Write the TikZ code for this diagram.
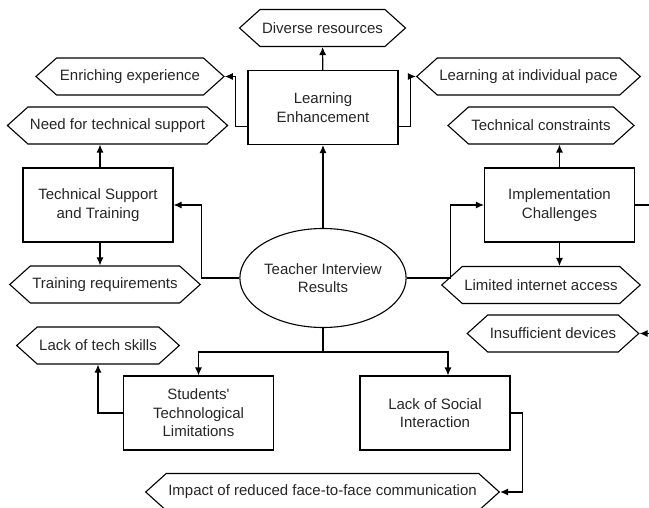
\documentclass[tikz,border=0pt]{standalone}
\usepackage{fontspec}
\setmainfont{Liberation Sans}
\usetikzlibrary{arrows.meta,positioning,shapes.symbols,shapes.geometric}

\begin{document}
\begin{tikzpicture}[
    x=1pt, y=-1pt,
    every node/.style={font=\fontsize{15}{18.5}\selectfont, text=black!85},
    theme/.style={draw, align=center, minimum width=150, minimum height=74, inner sep=2pt, line width=1.1pt},
    finding/.style={draw, signal, signal to=east and west, signal pointer angle=84, minimum height=37, inner sep=2pt, line width=1.1pt},
    hub/.style={draw, ellipse, align=center, minimum width=151, minimum height=99, inner sep=0pt, line width=1.1pt},
    flow/.style={-{Latex[length=8pt,width=7pt]}, line width=1.1pt}
]
\clip (0,0) rectangle (649,508);
% centre and themes
\node[hub] (results) at (323,278) {Teacher Interview\\Results};
\node[theme] (enhance) at (323,107.5) {Learning\\Enhancement};
\node[theme] (support) at (98,205) {Technical Support\\and Training};
\node[theme] (challenge) at (559.5,205) {Implementation\\Challenges};
\node[theme] (limits) at (198.5,413) {Students\textquotesingle\\Technological\\Limitations};
\node[theme] (social) at (435,413) {Lack of Social\\Interaction};
% findings
\node[finding, minimum width=150] (diverse) at (322.5,28) {Diverse resources};
\node[finding, minimum width=188] (enrich) at (130,76.5) {Enriching experience};
\node[finding, minimum width=213] (pace) at (528.5,76.5) {Learning at individual pace};
\node[finding, minimum width=211] (needsup) at (117.5,125.5) {Need for technical support};
\node[finding, minimum width=186] (training) at (105,284.5) {Training requirements};
\node[finding, minimum width=186] (constr) at (541,125.5) {Technical constraints};
\node[finding, minimum width=186] (internet) at (541,285) {Limited internet access};
\node[finding, minimum width=162] (devices) at (553,333.5) {Insufficient devices};
\node[finding, minimum width=150] (skills) at (98,345.5) {Lack of tech skills};
\node[finding, minimum width=349] (impact) at (322.5,492) {Impact of reduced face-to-face communication};
\coordinate (split) at (323,352);
% connectors
\draw[flow] (results) -- (enhance);
\draw[flow] (enhance) -- (diverse);
\draw[flow] ([yshift=-19pt]enhance.west) -- ++(-12,0) |- (enrich.east);
\draw[flow] ([yshift=-19pt]enhance.east) -- ++(12,0) |- (pace.west);
\draw[flow] (results.west) -- ++(-38,0) |- (support.east);
\draw[flow] ([xshift=2pt]support.north) -- ([xshift=2pt]support.north |- needsup.south);
\draw[flow] ([xshift=2pt]support.south) -- ([xshift=2pt]support.south |- training.north);
\draw[flow] (results.east) -- ++(44,0) |- (challenge.west);
\draw[flow] (challenge) -- (challenge |- constr.south);
\draw[flow] (challenge) -- (challenge |- internet.north);
\draw[flow] (challenge.east) -- ++(24,0) |- (devices.east);
\draw[flow] (results.south) -- (split) -| (limits.north);
\draw[flow] (split) -| ([xshift=13pt]social.north);
\draw[flow] (limits.west) -| (skills.south);
\draw[flow] (social.east) -- ++(12,0) |- (impact.east);
\end{tikzpicture}
\end{document}
